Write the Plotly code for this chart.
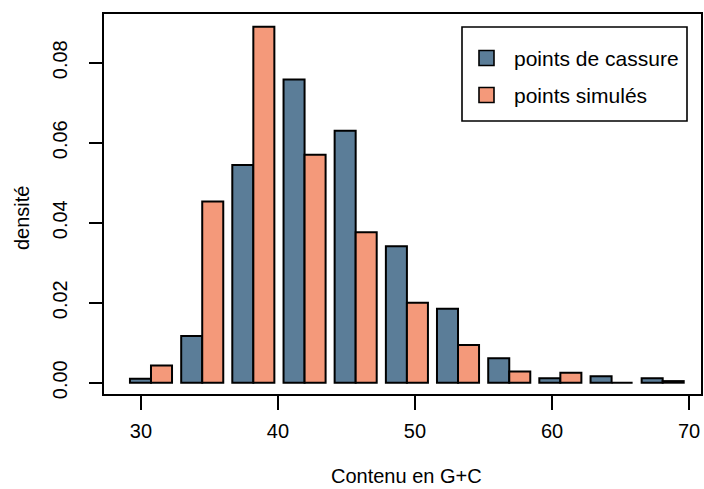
import plotly.graph_objects as go

# ---- data ----
bin_centers = [30.73, 34.47, 38.20, 41.94, 45.67, 49.41, 53.14, 56.88, 60.61, 64.35, 68.08]
cassure = [0.0010, 0.0117, 0.0544, 0.0758, 0.0630, 0.0341, 0.0185, 0.0061, 0.0011, 0.0016, 0.0011]
simules = [0.0043, 0.0453, 0.0890, 0.0570, 0.0376, 0.0200, 0.0094, 0.0028, 0.0025, 0.0000, 0.0004]
series_names = ["points de cassure", "points simulés"]
x_ticks = [30, 40, 50, 60, 70]
y_ticks = [0.00, 0.02, 0.04, 0.06, 0.08]

BLUE = "#5B7D98"
ORANGE = "#F4997A"
FONT = "Liberation Sans, Arial, Helvetica, sans-serif"
bar_w = 1.535

W, H = 704, 489
L, R, T, B = 104, 3, 14, 95
PW, PH = W - L - R, H - T - B


def px(x):
    return (x - L) / PW


def py(y):
    return (H - B - y) / PH


fig = go.Figure()
fig.add_trace(go.Bar(x=bin_centers, y=cassure, name=series_names[0], width=bar_w, offset=-bar_w,
                     marker=dict(color=BLUE, line=dict(color="black", width=2)), showlegend=False))
fig.add_trace(go.Bar(x=bin_centers, y=simules, name=series_names[1], width=bar_w, offset=0,
                     marker=dict(color=ORANGE, line=dict(color="black", width=2)), showlegend=False))

shapes = [
    # legend box
    dict(type="rect", xref="paper", yref="paper", x0=px(462), x1=px(687), y0=py(27), y1=py(121),
         line=dict(color="black", width=1.6), fillcolor="white", layer="above"),
]
annotations = []
for i, (nm, col) in enumerate(zip(series_names, [BLUE, ORANGE])):
    cy = 58 + i * 37
    shapes.append(dict(type="rect", xref="paper", yref="paper", x0=px(479), x1=px(494),
                       y0=py(cy - 7.5), y1=py(cy + 7.5), line=dict(color="black", width=1.6),
                       fillcolor=col, layer="above"))
    annotations.append(dict(text=nm, xref="paper", yref="paper", x=px(512), y=py(cy),
                            xanchor="left", yanchor="middle", showarrow=False,
                            font=dict(size=21, color="black", family=FONT)))

annotations.append(dict(text="Contenu en G+C", xref="paper", yref="paper", x=px(406), y=py(476),
                        xanchor="center", yanchor="middle", showarrow=False,
                        font=dict(size=20, color="black", family=FONT)))
annotations.append(dict(text="densité", xref="paper", yref="paper", x=px(22), y=py(218),
                        xanchor="center", yanchor="middle", showarrow=False, textangle=-90,
                        font=dict(size=20, color="black", family=FONT)))

fig.update_layout(
    width=W, height=H,
    margin=dict(l=L, r=R, t=T, b=B, autoexpand=False),
    plot_bgcolor="white", paper_bgcolor="white",
    barmode="overlay",
    font=dict(family=FONT, size=20, color="black"),
    shapes=shapes, annotations=annotations,
    showlegend=False,
)
fig.update_xaxes(range=[27.30, 70.876], tickvals=x_ticks, ticktext=[str(v) for v in x_ticks],
                 showgrid=False, zeroline=False, showline=True, mirror=True, linecolor="black",
                 linewidth=1.6, ticks="outside", ticklen=14, tickwidth=1.6, tickcolor="black",
                 ticklabelstandoff=4, tickfont=dict(size=20, family=FONT))
fig.update_yaxes(range=[-0.002825, 0.092175], tickvals=y_ticks, ticktext=[f"{v:.2f}" for v in y_ticks],
                 showgrid=False, zeroline=False, showline=True, mirror=True, linecolor="black",
                 linewidth=1.6, ticks="outside", ticklen=13, tickwidth=1.6, tickcolor="black",
                 ticklabelstandoff=14, tickangle=-90, tickfont=dict(size=20, family=FONT))

fig.write_html("out.html", config={"displayModeBar": False},
               post_script="document.body.style.margin='0';")
